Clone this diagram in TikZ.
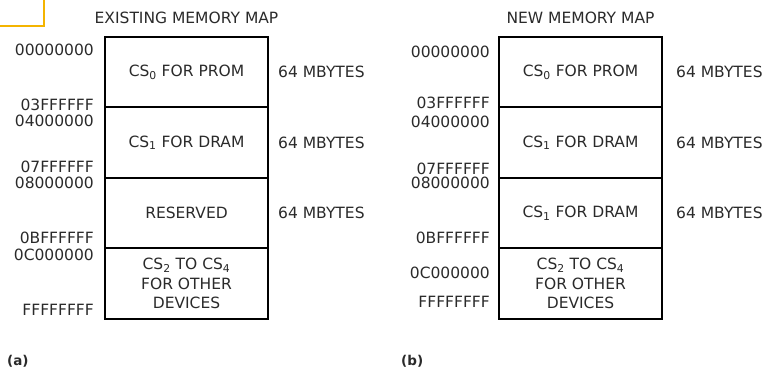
\documentclass[tikz,border=0pt]{standalone}
\usepackage{fontspec}
\setmainfont{DejaVu Sans}
\usepackage{tikz}
\usetikzlibrary{positioning}
\definecolor{markgold}{HTML}{F4B400}
\definecolor{inkgray}{HTML}{2A2A2A}
\tikzset{
  seg/.style={draw,line width=2pt,minimum width=163pt,minimum height=70.5pt,inner sep=0pt,outer sep=0pt,align=center,text=inkgray,font=\fontsize{15.5}{19.5}\selectfont},
  addr/.style={anchor=east,inner sep=0pt,text=inkgray,font=\fontsize{15.5}{18}\selectfont},
  size/.style={inner sep=0pt,text=inkgray,font=\fontsize{15.5}{18}\selectfont},
  title/.style={inner sep=0pt,text=inkgray,font=\fontsize{15.5}{18}\selectfont},
  tag/.style={anchor=west,inner sep=0pt,text=inkgray,font=\fontsize{13.5}{16}\selectfont\bfseries}
}

\begin{document}
\begin{tikzpicture}[x=1pt,y=-1pt]
\useasboundingbox (0,0) rectangle (768,371);
% corner mark
\draw[markgold,line width=2pt] (0,26) -- (44,26) -- (44,0);

% (a) existing map
\node[seg] (a0) at (186.5,72.25) {CS\textsubscript{0} FOR PROM};
\node[seg, below=0pt of a0] (a1) {CS\textsubscript{1} FOR DRAM};
\node[seg, below=0pt of a1] (a2) {RESERVED};
\node[seg, below=0pt of a2] (a3) {CS\textsubscript{2} TO CS\textsubscript{4}\\FOR OTHER\\DEVICES};
\node[title, above=13pt of a0] (atitle) {EXISTING MEMORY MAP};

\node[addr] (aa0) at (94,50) {00000000};
\node[addr] (aa1) at (94,105) {03FFFFFF};
\node[addr] (aa2) at (94,121) {04000000};
\node[addr] (aa3) at (94,167) {07FFFFFF};
\node[addr] (aa4) at (94,183) {08000000};
\node[addr] (aa5) at (94,238) {0BFFFFFF};
\node[addr] (aa6) at (94,255) {0C000000};
\node[addr] (aa7) at (94,310) {FFFFFFFF};

\node[size, right=10pt of a0] (as0) {64 MBYTES};
\node[size, right=10pt of a1] (as1) {64 MBYTES};
\node[size, right=10pt of a2] (as2) {64 MBYTES};

% (b) new map
\node[seg] (b0) at (580.5,72.25) {CS\textsubscript{0} FOR PROM};
\node[seg, below=0pt of b0] (b1) {CS\textsubscript{1} FOR DRAM};
\node[seg, below=0pt of b1] (b2) {CS\textsubscript{1} FOR DRAM};
\node[seg, below=0pt of b2] (b3) {CS\textsubscript{2} TO CS\textsubscript{4}\\FOR OTHER\\DEVICES};
\node[title, above=13pt of b0] (btitle) {NEW MEMORY MAP};

\node[addr] (ba0) at (490,52) {00000000};
\node[addr] (ba1) at (490,103) {03FFFFFF};
\node[addr] (ba2) at (490,122) {04000000};
\node[addr] (ba3) at (490,169) {07FFFFFF};
\node[addr] (ba4) at (490,183) {08000000};
\node[addr] (ba5) at (490,238) {0BFFFFFF};
\node[addr] (ba6) at (490,273) {0C000000};
\node[addr] (ba7) at (490,302) {FFFFFFFF};

\node[size, right=14pt of b0] (bs0) {64 MBYTES};
\node[size, right=14pt of b1] (bs1) {64 MBYTES};
\node[size, right=14pt of b2] (bs2) {64 MBYTES};

\node[tag] (atag) at (7,361) {(a)};
\node[tag] (btag) at (401,361) {(b)};
\end{tikzpicture}
\end{document}
